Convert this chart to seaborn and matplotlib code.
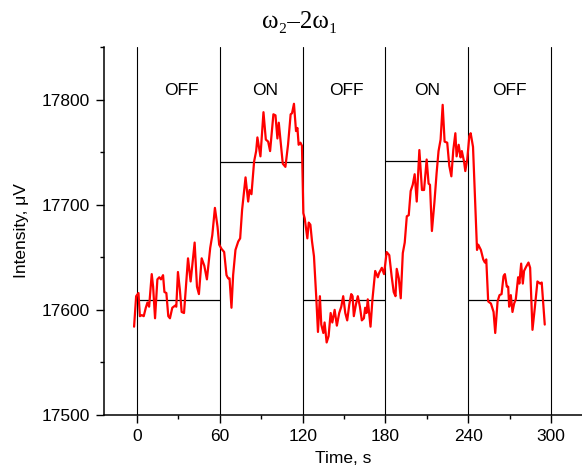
import numpy as np
import pandas as pd
import matplotlib
matplotlib.use('Agg')
import matplotlib.pyplot as plt
from matplotlib.ticker import MultipleLocator
import seaborn as sns

# signal (time in s, intensity in uV)
time_s = [-2.2, -0.7, 1.0, 2.0, 3.4, 4.8, 6.3, 7.5, 8.7, 10.6, 11.6, 13.0, 14.7, 16.1,
          17.3, 18.8, 19.8, 21.2, 22.6, 23.8, 25.5, 27.5, 28.4, 29.6, 31.0, 32.3, 34.0,
          35.4, 36.9, 38.8, 40.3, 41.7, 43.4, 44.8, 46.8, 48.7, 50.6, 53.0, 54.5, 56.4,
          58.3, 59.5, 61.2, 63.1, 64.8, 66.0, 67.0, 68.4, 69.6, 71.3, 73.3, 74.7, 76.1,
          78.6, 80.5, 81.5, 82.9, 84.8, 86.3, 87.2, 89.4, 91.6, 93.3, 95.0, 96.4, 98.8,
          100.3, 101.7, 102.7, 104.1, 105.6, 107.5, 109.4, 111.3, 112.3, 113.7, 115.2,
          116.2, 117.1, 118.4, 119.5, 120.5, 121.5, 123.4, 124.4, 125.6, 126.8, 128.2,
          129.9, 131.1, 132.5, 133.5, 135.0, 135.9, 137.4, 138.8, 140.3, 141.5, 143.2,
          144.8, 146.5, 148.0, 149.4, 150.9, 152.3, 153.8, 155.2, 156.2, 157.1, 158.6,
          160.0, 161.5, 162.9, 164.4, 165.3, 166.3, 167.2, 169.2, 170.6, 172.6, 174.5,
          175.4, 177.4, 179.0, 180.9, 182.8, 184.5, 186.0, 187.3, 188.2, 189.7, 191.1,
          192.6, 194.0, 195.5, 196.9, 198.3, 199.8, 201.2, 202.7, 204.6, 206.5, 208.0,
          209.9, 211.3, 212.3, 213.7, 215.5, 217.1, 218.5, 220.0, 221.5, 222.9, 224.8,
          226.3, 227.8, 229.2, 230.7, 231.6, 233.1, 234.5, 235.4, 237.0, 237.9, 239.3,
          240.8, 241.8, 243.5, 246.4, 247.3, 249.2, 250.9, 252.1, 253.1, 254.5, 256.5,
          258.4, 259.6, 261.3, 262.7, 264.2, 265.6, 266.6, 268.0, 269.0, 269.7, 270.9,
          272.1, 273.3, 274.5, 276.2, 277.1, 278.4, 279.6, 280.5, 282.0, 283.7, 284.9,
          286.6, 288.3, 290.2, 292.1, 293.3, 295.5]
intensity = [17584, 17613, 17616, 17594, 17595, 17594, 17602, 17607, 17603, 17634, 17622,
             17592, 17629, 17631, 17629, 17633, 17617, 17616, 17594, 17592, 17602, 17604,
             17603, 17636, 17619, 17598, 17597, 17622, 17649, 17627, 17646, 17664, 17622,
             17615, 17649, 17642, 17629, 17659, 17671, 17697, 17679, 17662, 17658, 17655,
             17633, 17630, 17630, 17602, 17633, 17657, 17665, 17668, 17695, 17726, 17703,
             17714, 17710, 17741, 17751, 17764, 17746, 17788, 17762, 17760, 17751, 17786,
             17785, 17763, 17778, 17759, 17739, 17736, 17757, 17786, 17787, 17796, 17770,
             17773, 17757, 17759, 17756, 17692, 17687, 17668, 17683, 17681, 17665, 17651,
             17611, 17579, 17613, 17586, 17578, 17588, 17569, 17575, 17597, 17588, 17600,
             17585, 17597, 17603, 17613, 17597, 17590, 17605, 17615, 17613, 17594, 17605,
             17613, 17603, 17590, 17592, 17602, 17597, 17610, 17584, 17610, 17637, 17631,
             17635, 17640, 17634, 17655, 17652, 17632, 17617, 17613, 17639, 17630, 17611,
             17654, 17664, 17689, 17690, 17713, 17719, 17729, 17703, 17752, 17714, 17714,
             17743, 17720, 17719, 17675, 17702, 17730, 17751, 17762, 17795, 17760, 17759,
             17737, 17727, 17752, 17768, 17746, 17757, 17745, 17751, 17741, 17732, 17743,
             17765, 17768, 17755, 17657, 17662, 17657, 17648, 17645, 17648, 17608, 17606,
             17598, 17578, 17608, 17614, 17615, 17632, 17634, 17622, 17622, 17603, 17614,
             17598, 17606, 17610, 17631, 17625, 17644, 17625, 17637, 17641, 17645, 17640,
             17581, 17602, 17627, 17625, 17626, 17586]

# OFF / ON periods and their mean levels
seg_start = [0, 60, 120, 180, 240]
seg_end = [60, 120, 180, 240, 300]
seg_level = [17609, 17741, 17609, 17742, 17609]
seg_label = ['OFF', 'ON', 'OFF', 'ON', 'OFF']
boundaries = [0, 60, 120, 180, 240, 300]

df = pd.DataFrame({'time': time_s, 'intensity': intensity})

sns.set_theme(style='ticks')
plt.rcParams['font.family'] = ['Liberation Sans', 'DejaVu Sans']
plt.rcParams['axes.linewidth'] = 1.1
plt.rcParams['text.color'] = 'black'
plt.rcParams['axes.labelcolor'] = 'black'

fig = plt.figure(figsize=(5.82, 4.74), dpi=100)
ax = fig.add_axes([104/582, 1 - 415/474, 1 - 104/582, (415 - 47)/474])

for b in boundaries:
    ax.axvline(b, color='black', lw=0.8, zorder=1)
ax.hlines(seg_level, seg_start, seg_end, color='black', lw=0.9, zorder=2)

sns.lineplot(data=df, x='time', y='intensity', color='#ff0000', lw=1.6,
             sort=False, estimator=None, ax=ax, zorder=3)

mids = [32, 93, 152, 210, 270]
for m, lab in zip(mids, seg_label):
    ax.text(m, 17809, lab, ha='center', va='center', fontsize=12.5, color='black')

ax.set_xlim(-24, 322.5)
ax.set_ylim(17500, 17850)
ax.xaxis.set_major_locator(MultipleLocator(60))
ax.xaxis.set_minor_locator(MultipleLocator(30))
ax.yaxis.set_major_locator(MultipleLocator(100))
ax.yaxis.set_minor_locator(MultipleLocator(50))
ax.tick_params(which='major', direction='out', length=6, width=1, labelsize=12.5,
               pad=4, color='black', labelcolor='black')
ax.tick_params(which='minor', direction='out', length=3, width=1, color='black')
ax.set_xlabel('Time, s', fontsize=12.5, labelpad=5)
ax.set_ylabel('Intensity, \u03bcV', fontsize=12.5, labelpad=9)
sns.despine(ax=ax)
for s in ['left', 'bottom']:
    ax.spines[s].set_color('black')

fig.text(300/582, 1 - 22/474, '\u03c9\u2082\u20132\u03c9\u2081', ha='center', va='center',
         fontsize=18, color='black', family=['Liberation Serif', 'DejaVu Serif'])

fig.savefig('out.png', dpi=100)
